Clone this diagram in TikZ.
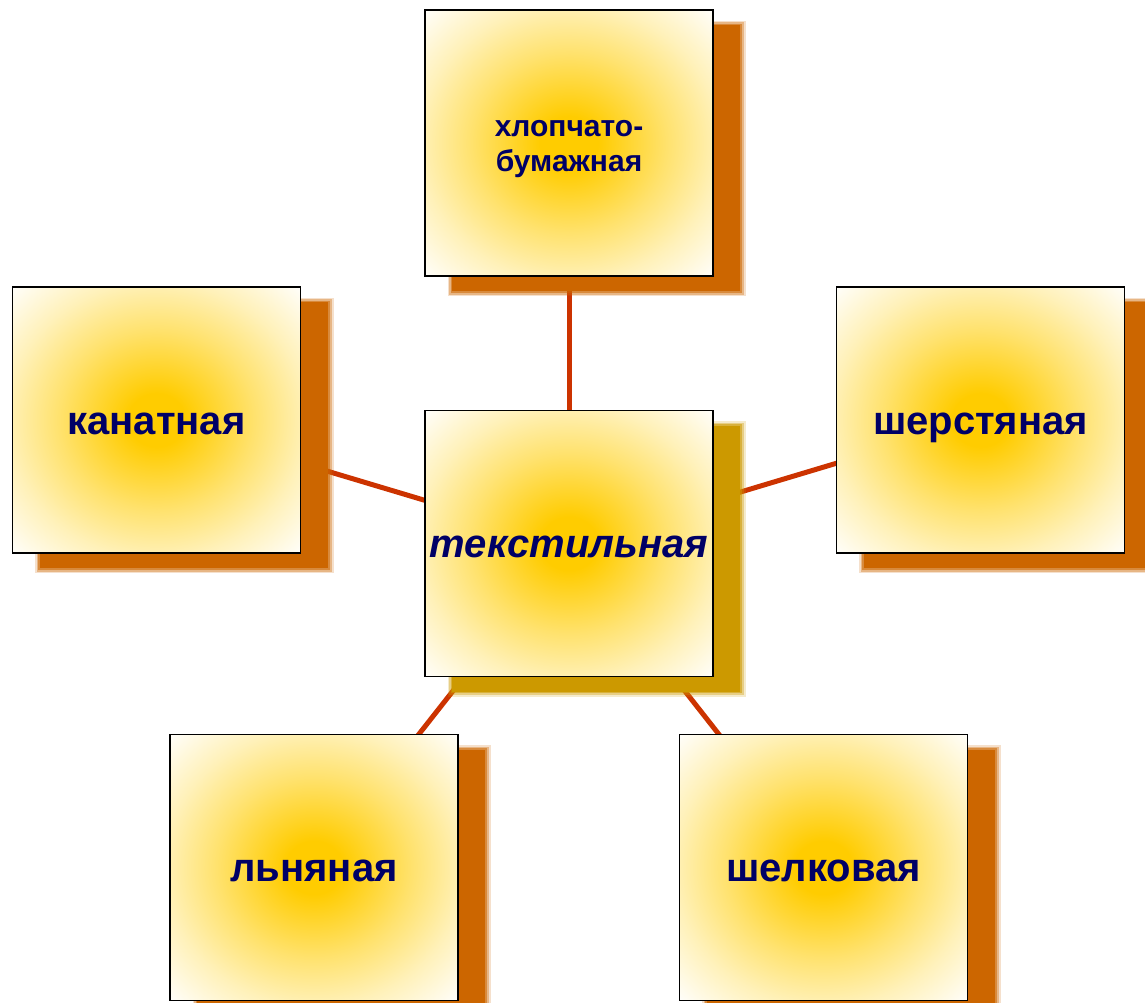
\documentclass[tikz,border=0pt]{standalone}
\usepackage{fontspec}
\setmainfont{Liberation Sans}
\usetikzlibrary{shadows}
\usetikzlibrary{backgrounds}
\definecolor{boxgold}{RGB}{255,204,0}
\definecolor{lightgold}{RGB}{255,226,110}
\definecolor{palegold}{RGB}{255,241,185}
\definecolor{shadeorange}{RGB}{204,102,0}
\definecolor{shadegold}{RGB}{204,153,0}
\definecolor{linkred}{RGB}{204,51,0}
\definecolor{textnavy}{RGB}{0,0,102}
\pgfdeclareradialshading{glow}{\pgfpoint{0bp}{0bp}}{color(0bp)=(boxgold); color(5bp)=(boxgold); color(17bp)=(lightgold); color(26bp)=(palegold); color(36bp)=(white); color(50bp)=(white)}

\begin{document}
\begin{tikzpicture}[x=1pt, y=-1pt,
  kind/.style={draw=black, line width=1.3pt, shading=glow, minimum width=288pt, minimum height=266pt, inner sep=0pt, text=textnavy, align=center, text height=28.8pt, text depth=0pt, font=\fontsize{40}{44}\selectfont\bfseries},
  boxshadow/.style={
    general shadow={fill=#1, shadow xshift=27pt, shadow yshift=-15pt, shadow scale=1.036, fill opacity=.2},
    general shadow={fill=#1, shadow xshift=27pt, shadow yshift=-15pt, shadow scale=1.024, fill opacity=.35},
    general shadow={fill=#1, shadow xshift=27pt, shadow yshift=-15pt, shadow scale=1.012, fill opacity=.55},
    general shadow={fill=#1, shadow xshift=27pt, shadow yshift=-15pt, shadow scale=1.0}},
  link/.style={draw=linkred, line width=5pt}]
\useasboundingbox (0,0) rectangle (1145,1003);
% boxes
\node[kind, boxshadow=shadegold, font=\fontsize{40}{44}\selectfont\bfseries\itshape] (textile) at (569,543.5) {текстильная};
\node[kind, boxshadow=shadeorange, text height=57.4pt, font=\fontsize{30}{35}\selectfont\bfseries] (cotton) at (569,143) {хлопчато-\\бумажная};
\node[kind, boxshadow=shadeorange] (rope) at (156.5,420) {канатная};
\node[kind, boxshadow=shadeorange] (wool) at (980.5,420) {шерстяная};
\node[kind, boxshadow=shadeorange] (flax) at (314,867.5) {льняная};
\node[kind, boxshadow=shadeorange] (silk) at (823.5,867.5) {шелковая};
% links
\begin{scope}[on background layer]
\foreach \n in {cotton, rope, wool, flax, silk}
  \draw[link] (textile.center) -- (\n.center);
\end{scope}
\end{tikzpicture}
\end{document}
